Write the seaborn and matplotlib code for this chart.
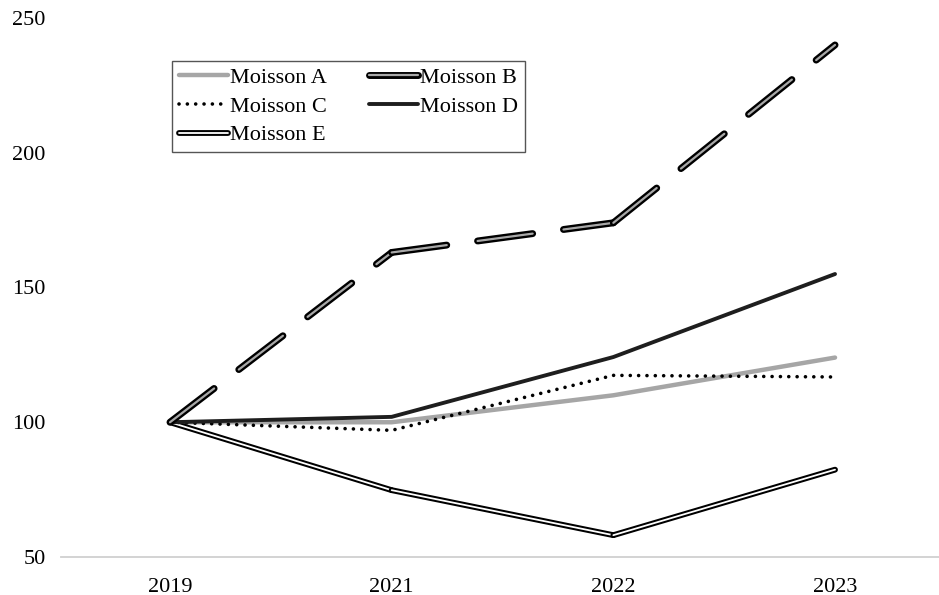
import numpy as np
import pandas as pd
import matplotlib
matplotlib.use("Agg")
import matplotlib.pyplot as plt
import matplotlib.patheffects as pe
import seaborn as sns

years = ["2019", "2021", "2022", "2023"]
moisson_a = [100, 100, 110, 124]
moisson_b = [100, 163, 174, 240]
moisson_c = [100, 97, 117.4, 116.8]
moisson_d = [100, 102, 124.2, 155]
moisson_e = [100, 74.8, 58.1, 82.4]
series_names = ["Moisson A", "Moisson B", "Moisson C", "Moisson D", "Moisson E"]
y_ticks = [50, 100, 150, 200, 250]

sns.set_theme(style="white")
plt.rcParams["font.family"] = ["Liberation Serif", "DejaVu Serif"]
plt.rcParams["text.color"] = "black"
FS = 16

fig = plt.figure(figsize=(9.39, 5.95), dpi=100)
ax = fig.add_axes([61 / 939, (595 - 557) / 595, (939 - 61) / 939, (557 - 18) / 595])

values = {"Moisson A": moisson_a, "Moisson B": moisson_b, "Moisson C": moisson_c,
          "Moisson D": moisson_d, "Moisson E": moisson_e}

# segment-wise frame (the dash pattern restarts at every vertex)
rows = []
for name in series_names:
    vals = values[name]
    for i in range(len(years) - 1):
        rows.append((name, years[i], vals[i], i))
        rows.append((name, years[i + 1], vals[i + 1], i))
seg_df = pd.DataFrame(rows, columns=["series", "year", "value", "seg"])
df = pd.DataFrame({
    "year": years * 5,
    "value": moisson_a + moisson_b + moisson_c + moisson_d + moisson_e,
    "series": np.repeat(series_names, len(years)),
})

# establish category order first
ax.plot(years, [np.nan] * len(years))

styles = {
    "Moisson A": dict(color="#a6a6a6", lw=3.2, pe=None, dashes=None, seg=False),
    "Moisson E": dict(color="white", lw=1.3, pe=4.2, dashes=None, seg=True),
    "Moisson C": dict(color="black", lw=2.6, pe=None, dashes=(0.01, 2.3), seg=False),
    "Moisson D": dict(color="#1e1e1e", lw=2.8, pe=None, dashes=None, seg=False),
    "Moisson B": dict(color="#a8a8a8", lw=1.6, pe=5.0, dashes=(25, 14), seg=True),
}

handles = {}
for name, st in styles.items():
    n_before = len(ax.lines)
    if st["seg"]:
        sub = seg_df[seg_df["series"] == name]
        sns.lineplot(data=sub, x="year", y="value", units="seg", estimator=None, ax=ax,
                     color=st["color"], linewidth=st["lw"], sort=False, legend=False)
    else:
        sub = df[df["series"] == name]
        sns.lineplot(data=sub, x="year", y="value", ax=ax, color=st["color"],
                     linewidth=st["lw"], sort=False, legend=False)
    new_lines = ax.lines[n_before:]
    for line in new_lines:
        line.set_solid_capstyle("round")
        line.set_dash_capstyle("round")
        line.set_solid_joinstyle("miter")
        if st["dashes"] is not None:
            line.set_dashes(st["dashes"])
        if st["pe"] is not None:
            line.set_path_effects([pe.Stroke(linewidth=st["pe"], foreground="black"), pe.Normal()])
        line.set_clip_on(False)
    handles[name] = new_lines[0]

ax.set_ylim(50, 250)
ax.set_xlim(-0.4917, 3.469)
ax.set_yticks(y_ticks)
ax.set_yticklabels([str(v) for v in y_ticks])
ax.set_xlabel("")
ax.set_ylabel("")
ax.tick_params(axis="both", length=0, labelsize=FS, colors="black")
ax.tick_params(axis="y", pad=11)
ax.tick_params(axis="x", pad=15)
for s in ["top", "right", "left"]:
    ax.spines[s].set_visible(False)
ax.spines["bottom"].set_color("#d0d0d0")
ax.spines["bottom"].set_linewidth(1.3)

leg_order = ["Moisson A", "Moisson C", "Moisson E", "Moisson B", "Moisson D"]
leg = ax.legend([handles[n] for n in leg_order], leg_order, ncol=2,
                loc="upper left", bbox_to_anchor=(172 / 939, 1 - 61 / 595),
                bbox_transform=fig.transFigure, borderaxespad=0,
                fontsize=FS, handlelength=2.2, handletextpad=0.1,
                columnspacing=1.9, labelspacing=0.36, borderpad=0.3,
                frameon=True, fancybox=False, edgecolor="#555555", framealpha=1,
                labelcolor="black")
leg.get_frame().set_linewidth(1.0)

fig.savefig("out.png", dpi=100)
